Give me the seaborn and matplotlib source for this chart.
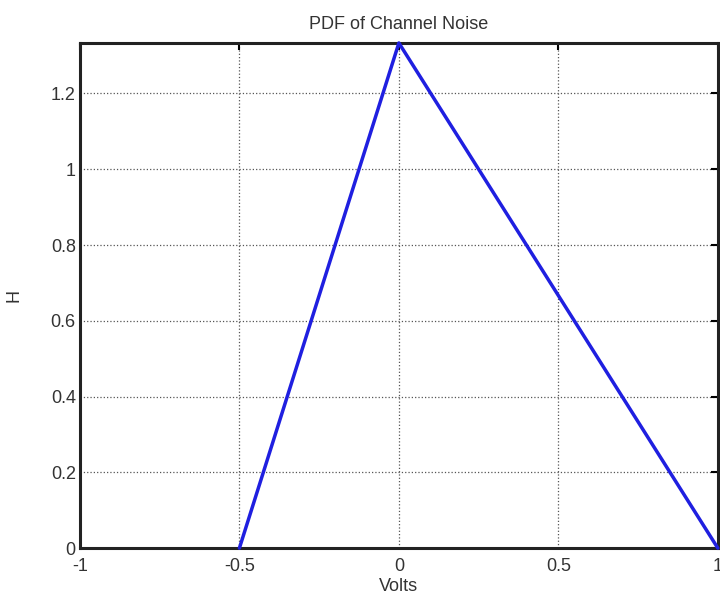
import matplotlib
matplotlib.use("Agg")
import matplotlib.pyplot as plt
import seaborn as sns
import pandas as pd

# Dados da PDF triangular do ruido
volts = [-0.5, 0.0, 1.0]
densidade = [0.0, 4 / 3, 0.0]
xticks = [-1, -0.5, 0, 0.5, 1]
yticks = [0, 0.2, 0.4, 0.6, 0.8, 1, 1.2]
xlabels = ["-1", "-0.5", "0", "0.5", "1"]
ylabels = ["0", "0.2", "0.4", "0.6", "0.8", "1", "1.2"]

df = pd.DataFrame({"Volts": volts, "H": densidade})

sns.set_style("white")
plt.rcParams["font.family"] = ["Liberation Sans", "DejaVu Sans"]

fig = plt.figure(figsize=(7.2, 6.05), dpi=100)
ax = fig.add_axes([0.111, 0.094, 0.886, 0.835])

sns.lineplot(data=df, x="Volts", y="H", sort=False, color="#1f1fe0",
             linewidth=2.5, ax=ax, zorder=3, clip_on=False)

ax.set_xlim(-1, 1)
ax.set_ylim(0, 4 / 3)
ax.set_xticks(xticks)
ax.set_xticklabels(xlabels)
ax.set_yticks(yticks)
ax.set_yticklabels(ylabels)
ax.grid(True, linestyle=":", color="#555555", linewidth=0.9)
ax.tick_params(direction="in", length=5, width=1.5, labelsize=13,
               colors="black", labelcolor="#333333", top=True, right=True)
ax.tick_params(axis="x", pad=7)
ax.tick_params(axis="y", pad=3)
for s in ax.spines.values():
    s.set_linewidth(2.2)
    s.set_color("#222222")

ax.set_xlabel("Volts", fontsize=13, color="#333333", labelpad=2)
ax.set_ylabel("H", fontsize=13, color="#333333", labelpad=20)
ax.set_title("PDF of Channel Noise", fontsize=13, color="#333333", pad=10)

plt.savefig("out.png", dpi=100)
